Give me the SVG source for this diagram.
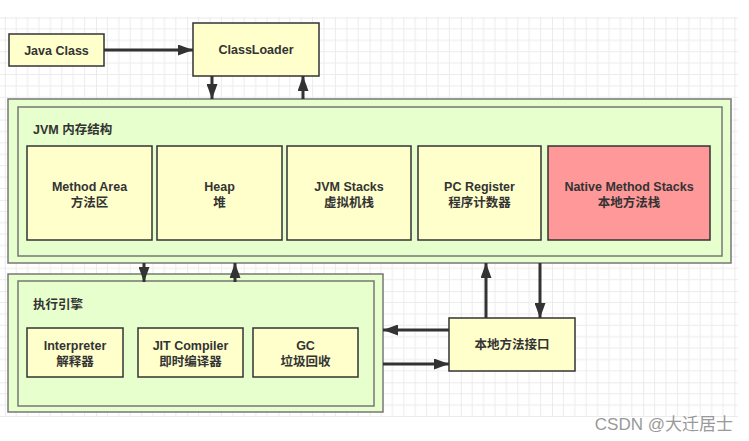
<svg xmlns="http://www.w3.org/2000/svg" width="749" height="441" viewBox="0 0 749 441">
<defs>
<pattern id="grid" x="4.8" y="17.5" width="91.2" height="91.2" patternUnits="userSpaceOnUse">
<path d="M0,0 V91.2 M11.4,0 V91.2 M22.8,0 V91.2 M34.2,0 V91.2 M45.6,0 V91.2 M57,0 V91.2 M68.4,0 V91.2 M79.8,0 V91.2 M0,0 H91.2 M0,11.4 H91.2 M0,22.8 H91.2 M0,34.2 H91.2 M0,45.6 H91.2 M0,57 H91.2 M0,68.4 H91.2 M0,79.8 H91.2" stroke="#ececec" stroke-width="1" fill="none"/>
<path d="M0,0 V91.2 M0,0 H91.2" stroke="#e0e0e0" stroke-width="1" fill="none"/>
</pattern>
<marker id="ah" markerUnits="userSpaceOnUse" markerWidth="15" markerHeight="11" refX="15" refY="5.5" orient="auto">
<path d="M0,0 L15,5.5 L0,11 z" fill="#333"/>
</marker>
<style>
.box{fill:#ffffcc;stroke:#333;stroke-width:1.5}
.red{fill:#ff9999;stroke:#333;stroke-width:1.5}
.grp{fill:#e6ffcc;stroke:#777;stroke-width:1.5}
.t{font-family:"Liberation Sans","Noto Sans CJK SC",sans-serif;font-size:12.5px;font-weight:bold;fill:#333;text-anchor:middle}
.lbl{font-family:"Liberation Sans","Noto Sans CJK SC",sans-serif;font-size:12.5px;font-weight:bold;fill:#333}
.wm{font-family:"Liberation Sans","Noto Sans CJK SC",sans-serif;font-size:17px;fill:#999;text-anchor:end}
.c{fill:none;stroke:#333;stroke-width:3;marker-end:url(#ah)}
</style>
</defs>
<rect x="0" y="17" width="738" height="400" fill="url(#grid)"/>

<g id="java-class"><rect class="box" x="9" y="34" width="95" height="32"/><text class="t" x="56.5" y="54.5">Java Class</text></g>
<g id="classloader"><rect class="box" x="193" y="23" width="126" height="53"/><text class="t" x="256" y="54">ClassLoader</text></g>

<g id="jvm-memory">
<rect class="grp" x="8" y="99" width="723" height="164"/>
<rect class="grp" x="18" y="107" width="704" height="149"/>
<text class="lbl" x="33" y="134">JVM 内存结构</text>
</g>
<g id="method-area"><rect class="box" x="27" y="146" width="125" height="94"/><text class="t" x="89.5" y="191">Method Area</text><text class="t" x="89.5" y="207">方法区</text></g>
<g id="heap"><rect class="box" x="157" y="146" width="125" height="94"/><text class="t" x="219.5" y="191">Heap</text><text class="t" x="219.5" y="207">堆</text></g>
<g id="jvm-stacks"><rect class="box" x="287" y="146" width="124" height="94"/><text class="t" x="349" y="191">JVM Stacks</text><text class="t" x="349" y="207">虚拟机栈</text></g>
<g id="pc-register"><rect class="box" x="418" y="146" width="123" height="94"/><text class="t" x="479.5" y="191">PC Register</text><text class="t" x="479.5" y="207">程序计数器</text></g>
<g id="native-method-stacks"><rect class="red" x="548" y="146" width="162" height="94"/><text class="t" x="629" y="191">Native Method Stacks</text><text class="t" x="629" y="207">本地方法栈</text></g>

<g id="execution-engine">
<rect class="grp" x="8" y="274" width="375" height="138"/>
<rect class="grp" x="18" y="281" width="356" height="125"/>
<text class="lbl" x="33" y="309">执行引擎</text>
</g>
<g id="interpreter"><rect class="box" x="27" y="328" width="96" height="49"/><text class="t" x="75" y="350">Interpreter</text><text class="t" x="75" y="366">解释器</text></g>
<g id="jit-compiler"><rect class="box" x="138" y="328" width="105" height="49"/><text class="t" x="190.5" y="350">JIT Compiler</text><text class="t" x="190.5" y="366">即时编译器</text></g>
<g id="gc"><rect class="box" x="253" y="328" width="105" height="49"/><text class="t" x="305.5" y="350">GC</text><text class="t" x="305.5" y="366">垃圾回收</text></g>

<g id="native-interface"><rect class="box" x="449" y="318" width="126" height="53"/><text class="t" x="512" y="348.5">本地方法接口</text></g>

<g id="connectors">
<path class="c" d="M104,50 H193"/>
<path class="c" d="M212,76 V99"/>
<path class="c" d="M303,99 V76"/>
<path class="c" d="M144,263 V282"/>
<path class="c" d="M235,282 V263"/>
<path class="c" d="M486,318 V263"/>
<path class="c" d="M540,263 V318"/>
<path class="c" d="M449,330 H383"/>
<path class="c" d="M383,364 H449"/>
</g>

<text class="wm" x="733" y="430">CSDN @大迁居士</text>
</svg>
